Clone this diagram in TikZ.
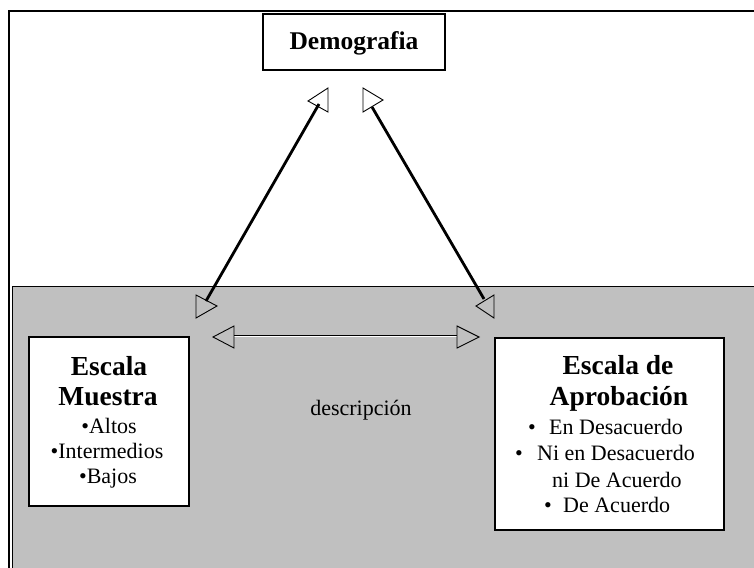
\documentclass[tikz,border=0pt]{standalone}
\usepackage{fontspec}
\setmainfont{Liberation Serif}
\definecolor{panelgray}{RGB}{192,192,192}
\begin{document}
\begin{tikzpicture}[x=1pt,y=-1pt,
  box/.style={draw=black, line width=1.6pt, fill=white, inner sep=0pt},
  ttl/.style={font=\fontsize{27.5}{30}\selectfont\bfseries, anchor=base, inner sep=0pt},
  itm/.style={font=\fontsize{22}{25}\selectfont, anchor=base, inner sep=0pt},
  itmw/.style={itm, anchor=base west},
  conn/.style={line width=2.8pt},
  head/.style={draw=black, line width=0.9pt, line join=miter}]
\useasboundingbox (0,0) rectangle (754,567);
\fill[white] (0,0) rectangle (754,567);
% gray panel and frame
\draw[fill=panelgray, line width=0.9pt] (12,286) rectangle (780,590);
\draw[line width=2pt] (9,590) -- (9,11) -- (780,11);
% boxes
\node[box, minimum width=182pt, minimum height=56pt] (demo) at (354,42) {};
\node[font=\fontsize{25.5}{28}\selectfont\bfseries, anchor=base, inner sep=0pt] (demot) at (354,50) {Demografia};
\node[box, minimum width=160pt, minimum height=169pt] (muestra) at (109,421.5) {};
\node[ttl] (m1) at (109,375) {Escala};
\node[ttl] (m2) at (108,405) {Muestra};
\node[itm] (m3) at (109,433) {•Altos};
\node[itm] (m4) at (107,458) {•Intermedios};
\node[itm] (m5) at (108,483) {•Bajos};
\node[box, minimum width=229pt, minimum height=192pt] (aprob) at (609.5,434) {};
\node[ttl] (a1) at (618,374) {Escala de};
\node[ttl] (a2) at (619,405) {Aprobación};
\node[itmw] (a3b) at (528,434) {•};
\node[itmw] (a3) at (549,434) {En Desacuerdo};
\node[itmw] (a4b) at (515,460) {•};
\node[itmw] (a4) at (537,460) {Ni en Desacuerdo};
\node[itmw] (a5) at (552,487) {ni De Acuerdo};
\node[itmw] (a6b) at (544,512) {•};
\node[itmw] (a6) at (563,512) {De Acuerdo};
\node[itm] (desc) at (361,415) {descripción};
% connectors
\coordinate (l1) at (206,301); \coordinate (l2) at (319,104);
\coordinate (r1) at (372,107); \coordinate (r2) at (484,299);
\coordinate (h1) at (234,336); \coordinate (h2) at (457,336);
\draw[conn] (l1) -- (l2);
\draw[conn] (r1) -- (r2);
\draw[line width=0.9pt, double=white, double distance=0.8pt] (h1) -- (h2);
% open arrowheads
\draw[head] (308,101) -- (328,88) -- (328,112) -- cycle;
\draw[head] (383,100) -- (363,88) -- (363,112) -- cycle;
\draw[head] (217,306) -- (196,295) -- (196,318) -- cycle;
\draw[head] (476,306) -- (494,295) -- (494,318) -- cycle;
\draw[head] (213,337) -- (234,326) -- (234,348) -- cycle;
\draw[head] (479,337) -- (457,326) -- (457,348) -- cycle;
\end{tikzpicture}
\end{document}
